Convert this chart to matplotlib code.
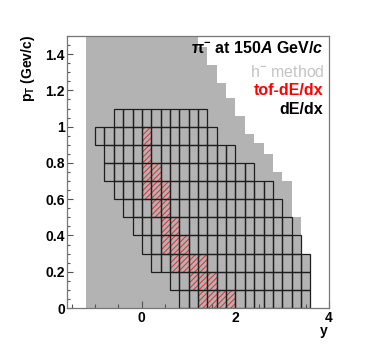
import numpy as np
import matplotlib
matplotlib.use('Agg')
import matplotlib.pyplot as plt
from matplotlib.ticker import FixedLocator, MultipleLocator, FixedFormatter

# ---- data ----
# h- method acceptance: rapidity bin lower edges and max pT
hminus_y = [-1.2, -1.0, -0.8, -0.6, -0.4, -0.2, 0.0, 0.2, 0.4, 0.6, 0.8, 1.0,
            1.2, 1.4, 1.6, 1.8, 2.0, 2.2, 2.4, 2.6, 2.8, 3.0, 3.2, 3.4]
hminus_ptmax = [1.5, 1.5, 1.5, 1.5, 1.5, 1.5, 1.5, 1.5, 1.5, 1.5, 1.5, 1.5,
                1.44, 1.34, 1.24, 1.16, 1.06, 0.96, 0.91, 0.85, 0.75, 0.70, 0.50, 0.30]

# dE/dx cells: per pT row (lower edge), rapidity range
dedx_pt = [0.0, 0.1, 0.2, 0.3, 0.4, 0.5, 0.6, 0.7, 0.8, 0.9, 1.0]
dedx_ylo = [0.8, 0.6, 0.2, 0.0, -0.2, -0.4, -0.6, -0.8, -0.8, -1.0, -0.6]
dedx_yhi = [3.6, 3.6, 3.6, 3.4, 3.2, 3.0, 2.8, 2.4, 2.0, 1.6, 1.4]

# tof-dE/dx cells
tof_pt = [0.0, 0.1, 0.2, 0.3, 0.4, 0.5, 0.6, 0.7, 0.8, 0.9]
tof_ylo = [1.2, 1.0, 0.6, 0.4, 0.4, 0.2, 0.0, 0.0, 0.0, 0.0]
tof_yhi = [2.0, 1.6, 1.4, 1.0, 0.8, 0.6, 0.6, 0.4, 0.2, 0.2]

ybin = 0.2
ptbin = 0.1

xticks = [0, 2, 4]
xticklabels = ['0', '2', '4']
yticks = [0, 0.2, 0.4, 0.6, 0.8, 1.0, 1.2, 1.4]
yticklabels = ['0', '0.2', '0.4', '0.6', '0.8', '1', '1.2', '1.4']

# ---- style ----
plt.rcParams['font.family'] = ['Liberation Sans', 'DejaVu Sans']
plt.rcParams['mathtext.fontset'] = 'custom'
plt.rcParams['mathtext.rm'] = 'Liberation Sans:bold'
plt.rcParams['mathtext.it'] = 'Liberation Sans:bold:italic'
plt.rcParams['mathtext.bf'] = 'Liberation Sans:bold'
plt.rcParams['hatch.linewidth'] = 0.8

W, H = 374, 359
fig = plt.figure(figsize=(W / 100, H / 100), dpi=100)
ax = fig.add_axes([67 / W, 1 - 308 / H, (329 - 67) / W, (308 - 36) / H])
ax.set_xlim(-1.6, 4.0)
ax.set_ylim(0, 1.5)

# h- region
ax.bar(hminus_y, hminus_ptmax, width=ybin, align='edge', color='#b3b3b3',
       linewidth=0, zorder=1)

# tof-dE/dx hatched cells
for pt, lo, hi in zip(tof_pt, tof_ylo, tof_yhi):
    ax.bar([lo], [ptbin], bottom=pt, width=hi - lo, align='edge',
           facecolor='none', edgecolor='#e8363a', hatch='//////',
           linewidth=0, zorder=2)

# dE/dx grid cells
for pt, lo, hi in zip(dedx_pt, dedx_ylo, dedx_yhi):
    n = int(round((hi - lo) / ybin))
    xs = lo + ybin * np.arange(n)
    ax.bar(xs, ptbin, bottom=pt, width=ybin, align='edge', fill=False,
           edgecolor='#1e1e1e', linewidth=0.9, zorder=3)

# axes / ticks
ax.xaxis.set_major_locator(FixedLocator(xticks))
ax.xaxis.set_major_formatter(FixedFormatter(xticklabels))
ax.xaxis.set_minor_locator(MultipleLocator(0.5))
ax.yaxis.set_major_locator(FixedLocator(yticks))
ax.yaxis.set_major_formatter(FixedFormatter(yticklabels))
ax.yaxis.set_minor_locator(MultipleLocator(0.05))
ax.tick_params(which='both', direction='in', color='#555555', width=0.8,
               top=False, right=False)
ax.tick_params(axis='y', which='major', length=4.5, pad=1.5)
ax.tick_params(axis='y', which='minor', length=2.3)
ax.tick_params(axis='x', which='major', length=5, pad=2)
ax.tick_params(axis='x', which='minor', length=3)
for lab in ax.get_xticklabels() + ax.get_yticklabels():
    lab.set_fontweight('bold')
    lab.set_fontsize(10)
for s in ax.spines.values():
    s.set_color('#777777')
    s.set_linewidth(0.9)
    s.set_zorder(5)
ax.set_axisbelow(False)

fig.text(28 / W, 1 - 35 / H, r'p$_{\mathrm{T}}$ (Gev/c)', rotation=90,
         ha='center', va='top', fontsize=10, fontweight='bold')
fig.text(324 / W, 1 - 334.5 / H, 'y', ha='center', va='baseline',
         fontsize=10, fontweight='bold')

xr = 323 / W
fig.text(xr, 1 - 53.3 / H, r'$\mathrm{\pi}^{-}$ at 150$A$ GeV/$c$', ha='right',
         va='baseline', fontsize=11.5, fontweight='bold', color='black')
fig.text(xr + 2 / W, 1 - 77 / H, r'h$^{-}$ method', ha='right', va='baseline',
         fontsize=11.5, color='#c4c4c4')
fig.text(xr, 1 - 95.3 / H, 'tof-dE/dx', ha='right', va='baseline',
         fontsize=11.5, fontweight='bold', color='#ff0000')
fig.text(xr, 1 - 113.5 / H, 'dE/dx', ha='right', va='baseline',
         fontsize=11.5, fontweight='bold', color='black')

fig.savefig('out.png', dpi=100)
